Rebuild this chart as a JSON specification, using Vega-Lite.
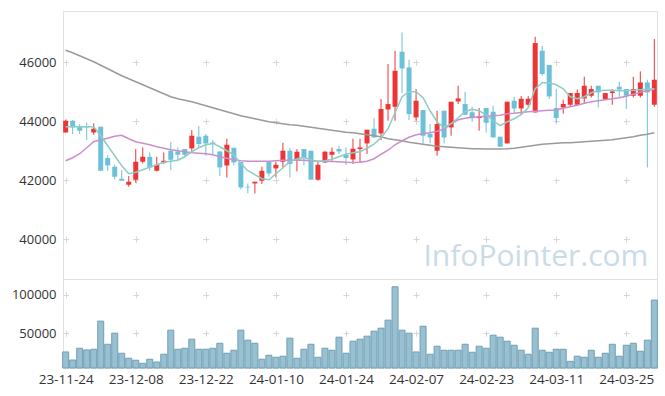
{
  "$schema": "https://vega.github.io/schema/vega-lite/v6.json",
  "padding": {"left": 6, "top": 10, "right": 5, "bottom": 5},
  "background": "white",
  "spacing": 0,
  "bounds": "flush",
  "config": {
    "view": {"stroke": "#e0e0e0"},
    "font": "Open Sans",
    "axis": {"labelFont": "Open Sans", "labelFontSize": 13, "labelColor": "#333333", "ticks": false, "domain": false, "title": null, "gridColor": "#d6d6d6"}
  },
  "datasets": {
    "k": [
      {"d":"23-11-24","o":43620,"h":44051,"l":43610,"c":44017,"v":25600,"m5":43814,"m20":42659,"m60":46411},
      {"d":"23-11-27","o":44017,"h":44041,"l":43566,"c":43790,"v":15100,"m5":43814,"m20":42761,"m60":46327},
      {"d":"23-11-28","o":43824,"h":43905,"l":43566,"c":43678,"v":30400,"m5":43814,"m20":42897,"m60":46225},
      {"d":"23-11-29","o":43814,"h":43950,"l":43362,"c":43790,"v":28200,"m5":43814,"m20":43101,"m60":46123},
      {"d":"23-11-30","o":43620,"h":43926,"l":43542,"c":43746,"v":29100,"m5":43814,"m20":43304,"m60":46021},
      {"d":"23-12-01","o":43814,"h":43814,"l":42319,"c":42319,"v":65700,"m5":43508,"m20":43372,"m60":45902},
      {"d":"23-12-04","o":42751,"h":42853,"l":42319,"c":42499,"v":35600,"m5":43169,"m20":43423,"m60":45783},
      {"d":"23-12-05","o":42455,"h":42523,"l":42024,"c":42116,"v":50000,"m5":42829,"m20":43491,"m60":45665},
      {"d":"23-12-06","o":42048,"h":42343,"l":41980,"c":41980,"v":23900,"m5":42489,"m20":43525,"m60":45546},
      {"d":"23-12-07","o":41844,"h":42140,"l":41776,"c":41946,"v":17400,"m5":42217,"m20":43406,"m60":45444},
      {"d":"23-12-08","o":42014,"h":43056,"l":41912,"c":42625,"v":14800,"m5":42268,"m20":43304,"m60":45342},
      {"d":"23-12-11","o":42625,"h":43111,"l":42567,"c":42795,"v":10800,"m5":42353,"m20":43253,"m60":45240},
      {"d":"23-12-12","o":42795,"h":42941,"l":42319,"c":42432,"v":16100,"m5":42438,"m20":43202,"m60":45138},
      {"d":"23-12-13","o":42319,"h":42795,"l":42296,"c":42523,"v":12500,"m5":42523,"m20":43134,"m60":45036},
      {"d":"23-12-14","o":42601,"h":42941,"l":42547,"c":42659,"v":22600,"m5":42608,"m20":43084,"m60":44934},
      {"d":"23-12-15","o":42999,"h":43294,"l":42343,"c":42693,"v":53900,"m5":42642,"m20":43033,"m60":44832},
      {"d":"23-12-18","o":42975,"h":43111,"l":42683,"c":42863,"v":29100,"m5":42676,"m20":42999,"m60":44765},
      {"d":"23-12-19","o":43056,"h":43056,"l":42771,"c":42863,"v":30400,"m5":42795,"m20":42965,"m60":44714},
      {"d":"23-12-20","o":43077,"h":43702,"l":42931,"c":43508,"v":42200,"m5":42965,"m20":42931,"m60":44663},
      {"d":"23-12-21","o":43474,"h":43837,"l":43111,"c":43226,"v":29100,"m5":43101,"m20":42914,"m60":44595},
      {"d":"23-12-22","o":43508,"h":43566,"l":42829,"c":43247,"v":29100,"m5":43202,"m20":42897,"m60":44527},
      {"d":"23-12-26","o":43281,"h":43362,"l":42863,"c":43226,"v":30400,"m5":43247,"m20":42863,"m60":44459},
      {"d":"23-12-27","o":42975,"h":42975,"l":42140,"c":42432,"v":36900,"m5":43134,"m20":42795,"m60":44391},
      {"d":"23-12-28","o":42499,"h":43406,"l":42092,"c":43202,"v":23900,"m5":42999,"m20":42744,"m60":44323},
      {"d":"24-01-02","o":43100,"h":43100,"l":42499,"c":42601,"v":27800,"m5":42863,"m20":42693,"m60":44255},
      {"d":"24-01-03","o":42615,"h":42615,"l":41684,"c":41752,"v":53900,"m5":42557,"m20":42659,"m60":44187},
      {"d":"24-01-04","o":41776,"h":41888,"l":41549,"c":41752,"v":40900,"m5":42319,"m20":42642,"m60":44136},
      {"d":"24-01-05","o":41888,"h":41946,"l":41549,"c":41946,"v":36900,"m5":42184,"m20":42642,"m60":44085},
      {"d":"24-01-08","o":41980,"h":42455,"l":41868,"c":42319,"v":16100,"m5":42048,"m20":42642,"m60":44034},
      {"d":"24-01-09","o":42625,"h":42625,"l":42116,"c":42228,"v":21300,"m5":42014,"m20":42642,"m60":43983},
      {"d":"24-01-10","o":42398,"h":42625,"l":42092,"c":42523,"v":18700,"m5":42217,"m20":42659,"m60":43950},
      {"d":"24-01-11","o":42625,"h":43270,"l":42432,"c":42999,"v":20000,"m5":42421,"m20":42676,"m60":43916},
      {"d":"24-01-12","o":42999,"h":43090,"l":42092,"c":42547,"v":43500,"m5":42625,"m20":42676,"m60":43882},
      {"d":"24-01-15","o":42693,"h":43056,"l":42296,"c":42965,"v":17400,"m5":42717,"m20":42683,"m60":43865},
      {"d":"24-01-16","o":43056,"h":43056,"l":42499,"c":42751,"v":29100,"m5":42771,"m20":42676,"m60":43831},
      {"d":"24-01-17","o":42999,"h":42999,"l":42014,"c":42014,"v":35600,"m5":42693,"m20":42659,"m60":43797},
      {"d":"24-01-18","o":42014,"h":42635,"l":41980,"c":42523,"v":18700,"m5":42635,"m20":42642,"m60":43763},
      {"d":"24-01-19","o":42601,"h":42999,"l":42581,"c":42965,"v":30400,"m5":42659,"m20":42642,"m60":43729},
      {"d":"24-01-22","o":42863,"h":43111,"l":42659,"c":42965,"v":27800,"m5":42710,"m20":42635,"m60":43695},
      {"d":"24-01-23","o":43056,"h":43158,"l":42887,"c":42975,"v":44800,"m5":42795,"m20":42625,"m60":43661},
      {"d":"24-01-24","o":42863,"h":43111,"l":42513,"c":42751,"v":23900,"m5":42880,"m20":42608,"m60":43627},
      {"d":"24-01-25","o":42703,"h":43406,"l":42547,"c":43067,"v":39600,"m5":42931,"m20":42601,"m60":43610},
      {"d":"24-01-26","o":43056,"h":43406,"l":42601,"c":43111,"v":42200,"m5":42965,"m20":42608,"m60":43576},
      {"d":"24-01-29","o":43247,"h":43712,"l":42887,"c":43712,"v":46100,"m5":43084,"m20":42642,"m60":43542},
      {"d":"24-01-30","o":43746,"h":44109,"l":43450,"c":43450,"v":52600,"m5":43226,"m20":42727,"m60":43508},
      {"d":"24-01-31","o":43586,"h":44754,"l":43362,"c":44415,"v":56500,"m5":43440,"m20":42880,"m60":43474},
      {"d":"24-02-01","o":44401,"h":45943,"l":44017,"c":44585,"v":67000,"m5":43746,"m20":43016,"m60":43406},
      {"d":"24-02-02","o":44493,"h":46395,"l":44017,"c":45715,"v":110400,"m5":44289,"m20":43202,"m60":43372},
      {"d":"24-02-05","o":46361,"h":47016,"l":44958,"c":45794,"v":53900,"m5":44832,"m20":43338,"m60":43338},
      {"d":"24-02-06","o":45828,"h":46089,"l":44041,"c":44245,"v":50000,"m5":45002,"m20":43457,"m60":43287},
      {"d":"24-02-07","o":44130,"h":45094,"l":44017,"c":44697,"v":25600,"m5":45002,"m20":43542,"m60":43253},
      {"d":"24-02-08","o":44381,"h":44381,"l":43247,"c":43508,"v":59100,"m5":44798,"m20":43576,"m60":43219},
      {"d":"24-02-13","o":43566,"h":43905,"l":43247,"c":43450,"v":22600,"m5":44357,"m20":43610,"m60":43185},
      {"d":"24-02-14","o":42999,"h":44357,"l":42829,"c":43905,"v":33000,"m5":43983,"m20":43661,"m60":43151},
      {"d":"24-02-15","o":44357,"h":44357,"l":43247,"c":43450,"v":27800,"m5":43780,"m20":43729,"m60":43134},
      {"d":"24-02-16","o":43790,"h":44663,"l":43508,"c":44663,"v":27800,"m5":43916,"m20":43916,"m60":43118},
      {"d":"24-02-19","o":44673,"h":45206,"l":44585,"c":44775,"v":27800,"m5":44119,"m20":44051,"m60":43101},
      {"d":"24-02-20","o":44585,"h":45002,"l":44221,"c":44221,"v":35600,"m5":44323,"m20":44102,"m60":43084},
      {"d":"24-02-21","o":44306,"h":44493,"l":43983,"c":44102,"v":25200,"m5":44408,"m20":44136,"m60":43067},
      {"d":"24-02-22","o":44109,"h":44449,"l":43678,"c":44153,"v":33000,"m5":44357,"m20":44153,"m60":43067},
      {"d":"24-02-23","o":44449,"h":44449,"l":43620,"c":43950,"v":30400,"m5":44221,"m20":44170,"m60":43057},
      {"d":"24-02-26","o":44323,"h":44527,"l":43450,"c":43450,"v":47400,"m5":44017,"m20":44187,"m60":43057},
      {"d":"24-02-27","o":43474,"h":43474,"l":43135,"c":43135,"v":44800,"m5":43848,"m20":44204,"m60":43057},
      {"d":"24-02-28","o":43247,"h":44663,"l":43247,"c":44663,"v":39600,"m5":43983,"m20":44255,"m60":43067},
      {"d":"24-02-29","o":44697,"h":44832,"l":44245,"c":44435,"v":34300,"m5":44085,"m20":44272,"m60":43084},
      {"d":"24-03-04","o":44435,"h":44856,"l":44221,"c":44765,"v":27800,"m5":44221,"m20":44299,"m60":43118},
      {"d":"24-03-05","o":44561,"h":44856,"l":44493,"c":44765,"v":22600,"m5":44459,"m20":44323,"m60":43151},
      {"d":"24-03-06","o":44299,"h":46870,"l":44299,"c":46656,"v":56500,"m5":45104,"m20":44340,"m60":43185},
      {"d":"24-03-07","o":46395,"h":46564,"l":45546,"c":45603,"v":27800,"m5":45308,"m20":44357,"m60":43219},
      {"d":"24-03-08","o":45909,"h":45909,"l":44754,"c":44843,"v":25200,"m5":45308,"m20":44374,"m60":43236},
      {"d":"24-03-11","o":44449,"h":45094,"l":43950,"c":44109,"v":29100,"m5":45240,"m20":44381,"m60":43253},
      {"d":"24-03-12","o":44469,"h":44731,"l":44255,"c":44585,"v":29100,"m5":45104,"m20":44442,"m60":43270},
      {"d":"24-03-13","o":44561,"h":44958,"l":44493,"c":44958,"v":13400,"m5":44832,"m20":44493,"m60":43270},
      {"d":"24-03-14","o":44561,"h":45080,"l":44527,"c":44958,"v":20000,"m5":44765,"m20":44544,"m60":43287},
      {"d":"24-03-15","o":44775,"h":45512,"l":44585,"c":45206,"v":18700,"m5":44832,"m20":44612,"m60":43304},
      {"d":"24-03-18","o":44867,"h":45206,"l":44809,"c":45094,"v":27800,"m5":44968,"m20":44663,"m60":43321},
      {"d":"24-03-19","o":45206,"h":45206,"l":44469,"c":44979,"v":18700,"m5":45036,"m20":44697,"m60":43338},
      {"d":"24-03-20","o":44754,"h":44958,"l":44720,"c":44958,"v":23900,"m5":45053,"m20":44731,"m60":43355},
      {"d":"24-03-21","o":44958,"h":45094,"l":44561,"c":45012,"v":35600,"m5":45053,"m20":44765,"m60":43372},
      {"d":"24-03-22","o":45172,"h":45342,"l":44809,"c":45080,"v":20000,"m5":45036,"m20":44799,"m60":43406},
      {"d":"24-03-25","o":45094,"h":45094,"l":44415,"c":44867,"v":34300,"m5":45036,"m20":44850,"m60":43440},
      {"d":"24-03-26","o":44867,"h":45512,"l":44809,"c":45094,"v":36900,"m5":45053,"m20":44917,"m60":43474},
      {"d":"24-03-27","o":44867,"h":45692,"l":44809,"c":45318,"v":26500,"m5":45070,"m20":44985,"m60":43525},
      {"d":"24-03-28","o":45318,"h":45410,"l":42432,"c":44979,"v":40900,"m5":45087,"m20":45036,"m60":43559},
      {"d":"24-03-29","o":44561,"h":46792,"l":44493,"c":45410,"v":93100,"m5":45104,"m20":45087,"m60":43610}
    ]
  },
  "vconcat": [
    {
      "width": 594,
      "height": 268,
      "data": {"name": "k"},
      "encoding": {
        "x": {
          "field": "d", "type": "ordinal", "sort": null,
          "scale": {"type": "point", "padding": 0.38},
          "axis": {"labels": false, "grid": true, "gridDash": [6, 52.9], "gridDashOffset": 10.5, "minExtent": 0, "maxExtent": 0,
                   "values": ["23-11-24","23-12-08","23-12-22","24-01-10","24-01-24","24-02-07","24-02-23","24-03-11","24-03-25"]}
        }
      },
      "layer": [
        {
          "mark": {"type": "rule", "strokeWidth": 1},
          "encoding": {
            "y": {"field": "l", "type": "quantitative", "scale": {"domain": [38642, 47745], "zero": false, "nice": false},
                  "axis": {"values": [40000, 42000, 44000, 46000], "format": "d", "grid": true, "gridDash": [6, 64.08], "gridDashOffset": 0.4, "labelPadding": 7, "minExtent": 56, "maxExtent": 56}},
            "y2": {"field": "h"},
            "color": {"condition": {"test": "datum.c > datum.o", "value": "#ee3535"}, "value": "#6cc1d8"}
          }
        },
        {
          "mark": {"type": "bar", "size": 5},
          "encoding": {
            "y": {"field": "o", "type": "quantitative", "scale": {"domain": [38642, 47745], "zero": false, "nice": false}},
            "y2": {"field": "c"},
            "color": {"condition": {"test": "datum.c > datum.o", "value": "#ee3535"}, "value": "#6cc1d8"}
          }
        },
        {
          "mark": {"type": "line", "color": "#9a9a9a", "strokeWidth": 1.5},
          "encoding": {"y": {"field": "m60", "type": "quantitative", "scale": {"domain": [38642, 47745], "zero": false, "nice": false}}}
        },
        {
          "mark": {"type": "line", "color": "#cc8dcc", "strokeWidth": 1.5},
          "encoding": {"y": {"field": "m20", "type": "quantitative", "scale": {"domain": [38642, 47745], "zero": false, "nice": false}}}
        },
        {
          "mark": {"type": "line", "color": "#8ccdc6", "strokeWidth": 1.5},
          "encoding": {"y": {"field": "m5", "type": "quantitative", "scale": {"domain": [38642, 47745], "zero": false, "nice": false}}}
        },
        {
          "data": {"values": [{"t": "InfoPointer.com", "d": "24-03-29", "p": 39093}]},
          "mark": {"type": "text", "align": "right", "baseline": "alphabetic", "dx": -6, "font": "Open Sans", "fontSize": 30, "color": "#c9dbe6"},
          "encoding": {
            "y": {"field": "p", "type": "quantitative", "scale": {"domain": [38642, 47745], "zero": false, "nice": false}},
            "text": {"field": "t"}
          }
        }
      ]
    },
    {
      "width": 594,
      "height": 89,
      "data": {"name": "k"},
      "mark": {"type": "bar", "size": 6, "fill": "#98c0d0", "stroke": "#6f9fb5", "strokeWidth": 1},
      "encoding": {
        "x": {
          "field": "d", "type": "ordinal", "sort": null,
          "scale": {"type": "point", "padding": 0.38},
          "axis": {"labelAngle": 0, "labelPadding": 4, "labelFontSize": 13.5, "grid": true, "gridDash": [6, 32.43], "gridDashOffset": 25.67,
                   "values": ["23-11-24","23-12-08","23-12-22","24-01-10","24-01-24","24-02-07","24-02-23","24-03-11","24-03-25"]}
        },
        "y": {"field": "v", "type": "quantitative", "scale": {"domain": [4700, 120500], "zero": false, "nice": false},
              "axis": {"values": [50000, 100000], "format": "d", "grid": true, "gridDash": [6, 64.08], "gridDashOffset": 0.4, "labelPadding": 7, "minExtent": 56, "maxExtent": 56}},
        "y2": {"datum": 4700}
      }
    }
  ]
}
